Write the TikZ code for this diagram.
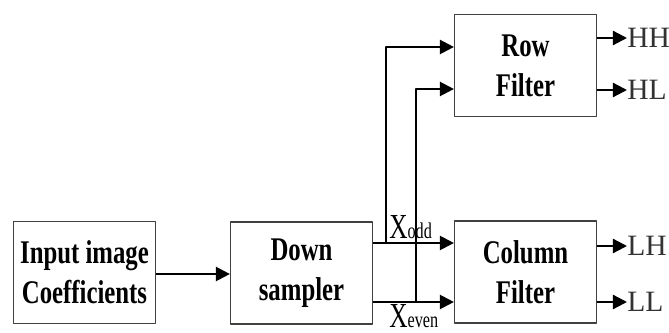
\documentclass[tikz,border=0pt]{standalone}
\usepackage{fontspec}
\setmainfont{Liberation Serif}
\newfontfamily\boxfont[FakeStretch=0.75]{Liberation Serif}
\newfontfamily\sigfont[FakeStretch=0.72]{Liberation Serif}
\usetikzlibrary{arrows.meta}

\tikzset{
  blk/.style={draw=black!75,line width=0.8pt,minimum width=3.55cm,minimum height=2.55cm,
    align=center,inner sep=0pt,font=\boxfont\bfseries\fontsize{23.5}{28.5}\selectfont},
  flow/.style={-{Triangle[length=10pt,width=10pt]},line width=1.6pt},
  outlab/.style={anchor=west,inner sep=0pt,text=black!80,font=\fontsize{21}{21}\selectfont},
  siglab/.style={inner sep=0pt,font=\sigfont\fontsize{25}{25}\selectfont}
}

\begin{document}
\begin{tikzpicture}[x=0.025cm,y=-0.025cm,line join=round]
  \useasboundingbox (0,0) rectangle (669,333);
  \node[blk] (inbox) at (84.5,272.5) {Input image\\Coefficients};
  \node[blk] (down) at (301.5,273) {Down\\sampler};
  \node[blk] (rowf) at (525.5,65.5) {Row\\Filter};
  \node[blk] (colf) at (525.5,272) {Column\\Filter};
  \coordinate (OD) at (386,243);
  \coordinate (EV) at (416,302);
  \coordinate (ODT) at (386,47);
  \coordinate (EVT) at (416,89);
  \coordinate (HHe) at (627,38);
  \coordinate (HLe) at (627,90);
  \coordinate (LHe) at (627,246);
  \coordinate (LLe) at (627,302);
  \draw[flow] (inbox.east |- 0,274) -- (down.west |- 0,274);
  \draw[flow] (down.east |- OD) -- (colf.west |- OD);
  \draw[flow] (down.east |- EV) -- (colf.west |- EV);
  \draw[flow] (OD) -- (ODT) -- (rowf.west |- ODT);
  \draw[flow] (EV) -- (EVT) -- (rowf.west |- EVT);
  \draw[flow] (rowf.east |- HHe) -- (HHe);
  \draw[flow] (rowf.east |- HLe) -- (HLe);
  \draw[flow] (colf.east |- LHe) -- (LHe);
  \draw[flow] (colf.east |- LLe) -- (LLe);
  \node[outlab] (hh) at (HHe) {HH};
  \node[outlab] (hl) at (HLe) {HL};
  \node[outlab] (lh) at (LHe) {LH};
  \node[outlab] (ll) at (LLe) {LL};
  \node[siglab,anchor=base west] (xodd) at (389,239) {X{\fontsize{16}{16}\selectfont odd}};
  \node[siglab,anchor=base west] (xeven) at (389,327) {X{\fontsize{16}{16}\selectfont even}};
\end{tikzpicture}
\end{document}
